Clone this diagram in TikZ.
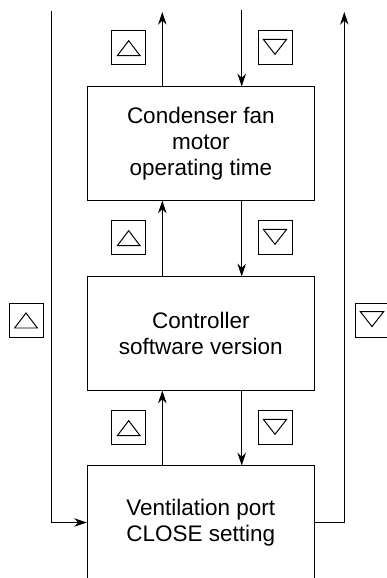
\documentclass[tikz,border=0pt]{standalone}
\usepackage{fontspec}
\setmainfont{Liberation Sans}
\usetikzlibrary{arrows.meta, positioning}
\tikzset{>={Stealth[length=9pt,width=6pt]}}

% key symbols with a triangle inside
\newcommand{\upkey}[2]{\node[key] (#1) at #2 {};
	\draw (#1.center) ++(-11.4,8) -- ++(22.8,0) -- ++(-11.4,-15) -- cycle;}
\newcommand{\downkey}[2]{\node[key] (#1) at #2 {};
	\draw (#1.center) ++(-11.7,-8.4) -- ++(23.4,0) -- ++(-11.7,15) -- cycle;}

\begin{document}
\begin{tikzpicture}[x=0.025cm, y=-0.025cm, line width=0.7pt,
	menu/.style={draw, minimum width=5.675cm, minimum height=2.83cm, align=center,
		font=\fontsize{16}{18.5}\selectfont},
	key/.style={draw, minimum size=0.85cm, inner sep=0pt}]
	\useasboundingbox (0,0) rectangle (387,578);
	\node[menu] (fan) at (200.8,143.5) {Condenser fan\\motor\\operating time};
	\node[menu] (soft) at (200.8,333.5) {Controller\\software version};
	\node[menu] (vent) at (200.8,522.5) {Ventilation port\\CLOSE setting};
	
	\foreach \y [count=\i] in {47.7,237.7,427.7} {
		\upkey{up\i}{(128.7,\y)}
		\downkey{down\i}{(275,\y)}
	}
	\upkey{upall}{(26,320)}
	\downkey{downall}{(372,320)}
	
	\coordinate (fanout) at (162.3,12);
	\coordinate (fanin) at (241.7,10);
	\draw [->] (fan.north -| fanout) -- (fanout);
	\draw [->] (fanin) -- (fan.north -| fanin);
	\draw [->] (soft.north -| fanout) -- (fan.south -| fanout);
	\draw [->] (fan.south -| fanin) -- (soft.north -| fanin);
	\draw [->] (vent.north -| fanout) -- (soft.south -| fanout);
	\draw [->] (soft.south -| fanin) -- (vent.north -| fanin);
	
	\coordinate (lefttop) at (51.7,11);
	\coordinate (righttop) at (344.3,12);
	\draw [->] (lefttop) |- (vent.west);
	\draw [->] (vent.east) -| (righttop);
\end{tikzpicture}
\end{document}
